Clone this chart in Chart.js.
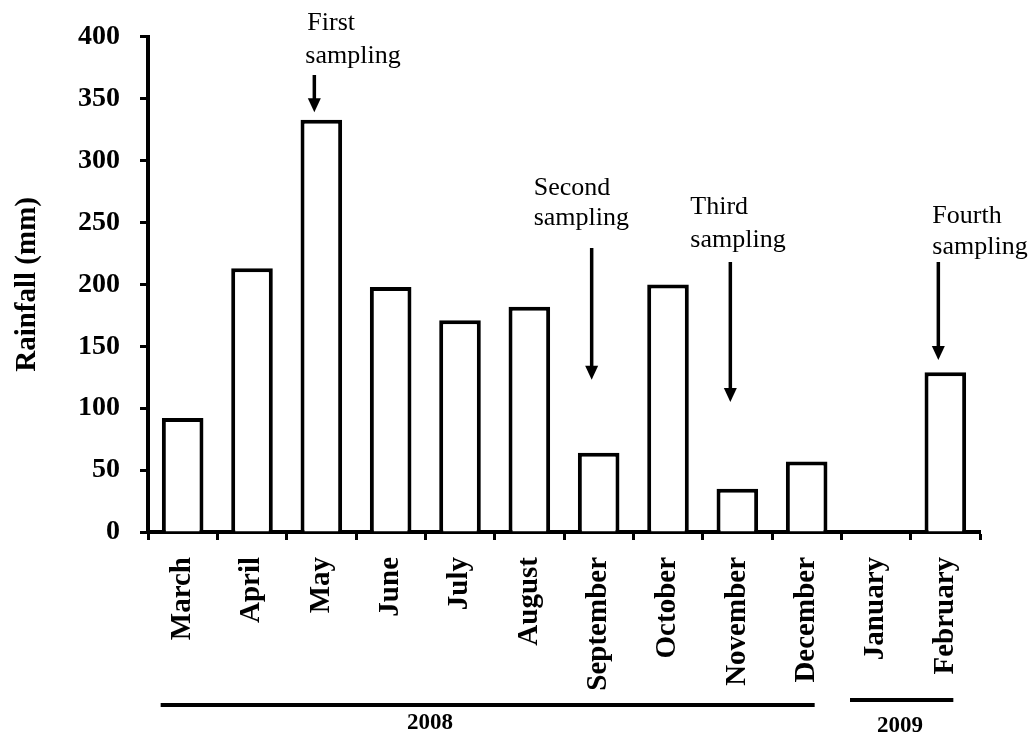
<!DOCTYPE html>
<html>
<head>
<meta charset="utf-8">
<script src="https://cdn.jsdelivr.net/npm/chart.js@4.4.1/dist/chart.umd.min.js"></script>
<style>
  body { margin: 0; background: #fff; }
  #wrap { width: 1032px; height: 736px; }
</style>
</head>
<body>
<div id="wrap"><canvas id="grafico1"></canvas></div>
<script>
// data
const meses = ['March', 'April', 'May', 'June', 'July', 'August', 'September', 'October', 'November', 'December', 'January', 'February'];
const chuva = [92, 213, 333, 198, 171, 182, 64, 200, 35, 57, 0, 129];
const yTicks = [0, 50, 100, 150, 200, 250, 300, 350, 400];

// sampling notes: two text lines, month index, arrow tip value
const amostraTexto = [['First', 'sampling'], ['Second', 'sampling'], ['Third', 'sampling'], ['Fourth', 'sampling']];
const amostraMes = [2, 6, 8, 11];
const amostraPonta = [339, 123, 105, 139];

const anos = ['2008', '2009'];
const anoMeses = [[0, 9], [10, 11]];

const serif = "'Liberation Serif', 'Times New Roman', serif";

// where each note sits (pixels, dx is from the arrow)
const notaLayout = [
  { dx: -7, dx2: -9, l1: 30, l2: 63, top: 75 },
  { dx: -58, dx2: -58, l1: 195, l2: 225, top: 248 },
  { dx: -40, dx2: -40, l1: 214, l2: 247, top: 262 },
  { dx: -6, dx2: -6, l1: 223, l2: 254, top: 262 }
];
const anoLayout = [
  { a: -22, b: 8, y: 705, ty: 729, cx: 430 },
  { a: -26, b: 8, y: 700, ty: 732, cx: 900 }
];

const extras = {
  id: 'extras',
  afterDraw(chart) {
    const c = chart.ctx;
    const xs = chart.scales.x, ys = chart.scales.y;
    c.save();
    c.fillStyle = '#000';
    c.strokeStyle = '#000';

    // notes + arrows
    c.font = '26px ' + serif;
    c.textAlign = 'left';
    c.textBaseline = 'alphabetic';
    amostraMes.forEach((m, i) => {
      const L = notaLayout[i];
      const ax = xs.getPixelForValue(m) - 7;
      c.fillText(amostraTexto[i][0], ax + L.dx, L.l1);
      c.fillText(amostraTexto[i][1], ax + L.dx2, L.l2);
      const tip = ys.getPixelForValue(amostraPonta[i]);
      c.lineWidth = 3.5;
      c.beginPath();
      c.moveTo(ax, L.top);
      c.lineTo(ax, tip - 12);
      c.stroke();
      c.beginPath();
      c.moveTo(ax - 6.5, tip - 14);
      c.lineTo(ax + 6.5, tip - 14);
      c.lineTo(ax, tip);
      c.closePath();
      c.fill();
    });

    // year lines
    c.font = 'bold 23px ' + serif;
    c.textAlign = 'center';
    anos.forEach((ano, i) => {
      const L = anoLayout[i];
      const x1 = xs.getPixelForValue(anoMeses[i][0]) + L.a;
      const x2 = xs.getPixelForValue(anoMeses[i][1]) + L.b;
      c.lineWidth = 4;
      c.beginPath();
      c.moveTo(x1, L.y);
      c.lineTo(x2, L.y);
      c.stroke();
      c.fillText(ano, L.cx, L.ty);
    });
    c.restore();
  }
};

const ctx = document.getElementById('grafico1');

let grafico1 = new Chart(ctx, {
  type: 'bar',
  data: {
    labels: meses,
    datasets: [{
      label: 'Rainfall',
      data: chuva,
      backgroundColor: '#fff',
      borderColor: '#000',
      borderWidth: 4,
      barPercentage: 0.6,
      categoryPercentage: 1
    }]
  },
  options: {
    responsive: true,
    maintainAspectRatio: false,
    animation: false,
    layout: { padding: { top: 36, right: 52, left: 0, bottom: 0 } },
    plugins: { legend: { display: false }, tooltip: { enabled: false } },
    scales: {
      x: {
        afterFit: s => { s.height = 204; },
        border: { color: '#000', width: 4 },
        grid: { drawOnChartArea: false, tickLength: 8, tickWidth: 3, tickColor: '#000' },
        ticks: {
          color: '#000',
          minRotation: 90, maxRotation: 90,
          padding: 17,
          font: { family: serif, size: 29, weight: 'bold' }
        }
      },
      y: {
        min: 0, max: 400,
        afterFit: s => { s.width = 148; },
        afterBuildTicks: s => { s.ticks = yTicks.map(v => ({ value: v })); },
        border: { color: '#000', width: 4 },
        grid: { drawOnChartArea: false, tickLength: 8, tickWidth: 3, tickColor: '#000' },
        ticks: {
          color: '#000',
          padding: 20,
          font: { family: serif, size: 28, weight: 'bold' }
        },
        title: {
          display: true,
          text: 'Rainfall (mm)',
          color: '#000',
          padding: { top: 10, bottom: 0 },
          font: { family: serif, size: 29, weight: 'bold' }
        }
      }
    }
  },
  plugins: [extras]
});
</script>
</body>
</html>
